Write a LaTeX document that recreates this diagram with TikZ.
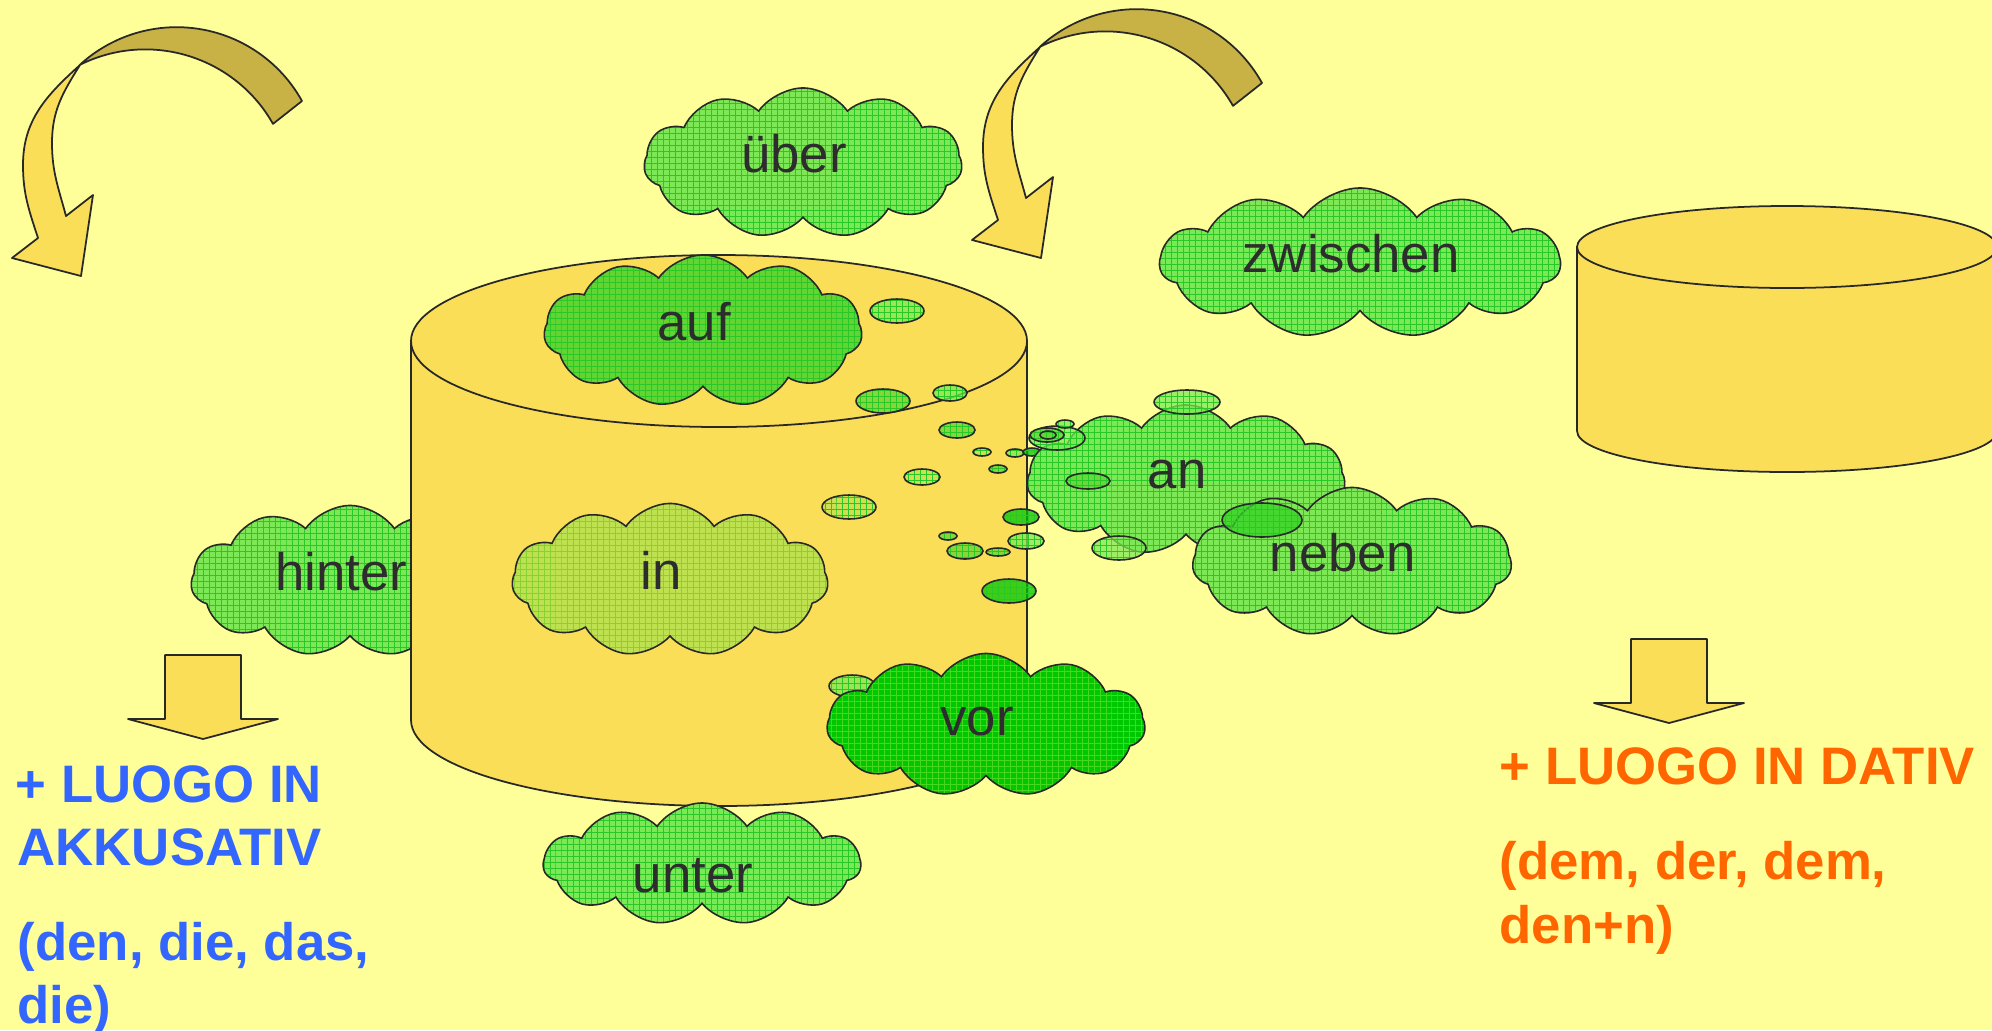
\documentclass[tikz,border=0pt]{standalone}
\usepackage{fontspec}
\setmainfont{Liberation Sans}
\usetikzlibrary{shapes.symbols,patterns}

\definecolor{bgyellow}{RGB}{255,255,153}
\definecolor{cylyellow}{RGB}{250,222,88}
\definecolor{arrowbrown}{RGB}{200,178,70}
\definecolor{linegray}{RGB}{40,40,40}
\definecolor{textgray}{RGB}{45,45,45}
\definecolor{palegreen}{RGB}{125,232,85}
\definecolor{midgreen}{RGB}{100,212,50}
\definecolor{inyellow}{RGB}{190,225,80}
\definecolor{vivgreen}{RGB}{0,200,0}
\definecolor{darkbubble}{RGB}{50,210,35}
\definecolor{gridgreen}{RGB}{40,200,40}
\definecolor{ingrid}{RGB}{135,210,50}
\definecolor{vorgrid}{RGB}{70,215,30}
\definecolor{akkblue}{RGB}{51,102,255}
\definecolor{datorange}{RGB}{255,102,0}

\newcommand\cloudfont{\fontsize{15}{18}\selectfont}
\newcommand\casefont{\fontsize{15}{18}\selectfont\bfseries}
\newcommand\cloudword[2][0.2cm]{\makebox[0pt]{\raisebox{#1}{#2}\hspace{0.18cm}}}
\newcommand\cloudwordlow[2][-0.28cm]{\makebox[0pt]{\raisebox{#1}[0pt][0pt]{#2}\hspace{0.18cm}}}

\pgfdeclarepatternformonly{finegrid}{\pgfqpoint{-0.2pt}{-0.2pt}}{\pgfqpoint{1.9pt}{1.9pt}}{\pgfqpoint{1.7pt}{1.7pt}}{%
  \pgfsetlinewidth{0.28pt}%
  \pgfpathmoveto{\pgfqpoint{0pt}{-0.2pt}}\pgfpathlineto{\pgfqpoint{0pt}{1.9pt}}%
  \pgfpathmoveto{\pgfqpoint{-0.2pt}{0pt}}\pgfpathlineto{\pgfqpoint{1.9pt}{0pt}}%
  \pgfusepath{stroke}}

\tikzset{
  arrowline/.style={draw=linegray, line width=0.5pt, line join=round},
  cyl/.style={draw=linegray, line width=0.5pt, fill=cylyellow},
  cloudbox/.style={cloud, cloud puffs=11, cloud puff arc=110, draw=linegray, line width=0.45pt,
    preaction={fill=#1}, pattern=finegrid, pattern color=gridgreen, text=textgray, font=\cloudfont},
  bubble/.style={draw=linegray, line width=0.45pt, preaction={fill=#1, fill opacity=0.75},
    pattern=finegrid, pattern color=gridgreen},
  akk/.style={anchor=base west, text=akkblue, font=\casefont},
  dat/.style={anchor=base west, text=datorange, font=\casefont},
  turnarrow/.pic={
    \draw[arrowline, fill=arrowbrown] (302,-101) arc[start angle=29, end angle=132.5, radius=143.3]
      arc[start angle=116.5, end angle=29.5, radius=146.7] -- cycle;
    \draw[arrowline, fill=cylyellow] (80,-65) to[out=222,in=90] (23,-165) to[out=-90,in=108] (38,-238)
      -- (12,-258) -- (81,-276) -- (93,-195) -- (66,-216) to[out=105,in=-90] (52,-143) to[out=90,in=238] (80,-65) -- cycle;
  },
  droparrow/.pic={
    \draw[arrowline, fill=cylyellow] (-38,0) -- (38,0) -- (38,-64) -- (75,-64) -- (0,-84) -- (-75,-64) -- (-38,-64) -- cycle;
  }
}

\begin{document}
\begin{tikzpicture}[x=0.01cm, y=0.01cm]
\tikzstyle{every node}+=[inner sep=0pt]
\useasboundingbox (0,0) rectangle (1992,-1030);
\fill [bgyellow] (0,0) rectangle (1992,-1030);
\pic at (0,0) {turnarrow};
\pic at (960,18) {turnarrow};
\node [cloudbox=palegreen, minimum width=3.18cm, minimum height=1.51cm] (hinter) at (350,-581) {\cloudword{hinter}};
\draw [cyl] (411,-341) -- (411,-720) arc[start angle=180, end angle=360, x radius=308, y radius=86] -- (1027,-341) -- cycle;
\draw [cyl] (719,-341) ellipse (308 and 86);
\draw [cyl] (1577,-247) -- (1577,-431) arc[start angle=180, end angle=360, x radius=210, y radius=41] -- (1997,-247) -- cycle;
\draw [cyl] (1787,-247) ellipse (210 and 41);
\node [cloudbox=palegreen, minimum width=3.18cm, minimum height=1.5cm] (uber) at (803,-163) {\cloudword{über}};
\node [cloudbox=palegreen, minimum width=4cm, minimum height=1.5cm] (zwischen) at (1360,-263) {\cloudword{zwischen}};
\node [cloudbox=midgreen, minimum width=3.18cm, minimum height=1.52cm] (auf) at (703,-331) {\cloudword{auf}};
\node [cloudbox=inyellow, pattern color=ingrid, minimum width=3.16cm, minimum height=1.53cm] (in) at (670,-580) {\cloudword{in}};
\node [cloudbox=palegreen, minimum width=3.17cm, minimum height=1.22cm] (unter) at (702,-864) {\cloudwordlow{unter}};
\draw [bubble=palegreen] (897,-311) ellipse (27 and 12);
\draw [bubble=midgreen] (883,-401) ellipse (27 and 12);
\draw [bubble=palegreen] (950,-393) ellipse (17 and 8);
\draw [bubble=midgreen] (957,-430) ellipse (18 and 8);
\draw [bubble=inyellow] (982,-452) ellipse (9 and 4);
\draw [bubble=palegreen] (1015,-453) ellipse (9 and 4);
\draw [bubble=vivgreen] (1032,-452) ellipse (9 and 4);
\draw [bubble=midgreen] (998,-469) ellipse (9 and 4);
\draw [bubble=inyellow] (922,-477) ellipse (18 and 8);
\draw [bubble=inyellow] (849,-507) ellipse (27 and 12);
\draw [bubble=midgreen] (948,-536) ellipse (9 and 4);
\draw [bubble=midgreen] (965,-551) ellipse (18 and 8);
\draw [bubble=midgreen] (998,-552) ellipse (12 and 4);
\draw [bubble=vivgreen] (1021,-517) ellipse (18 and 8);
\draw [bubble=palegreen] (1026,-541) ellipse (18 and 8);
\draw [bubble=vivgreen] (1009,-591) ellipse (27 and 12);
\draw [bubble=palegreen] (852,-686) ellipse (23 and 11);
\node [cloudbox=vivgreen, pattern color=vorgrid, minimum width=3.18cm, minimum height=1.43cm] (vor) at (986,-725) {\cloudword[0.08cm]{vor}};
\node [cloudbox=palegreen, minimum width=3.18cm, minimum height=1.5cm] (an) at (1186,-480) {\cloudword[0.12cm]{an}};
\node [cloudbox=palegreen, minimum width=3.19cm, minimum height=1.49cm] (neben) at (1352,-562) {\cloudword{neben}};
\draw [bubble=palegreen] (1057,-438) ellipse (28 and 12);
\draw [bubble=midgreen] (1047,-435) ellipse (17 and 7);
\draw [bubble=midgreen] (1048,-435) ellipse (8 and 4);
\draw [bubble=palegreen] (1065,-424) ellipse (9 and 4);
\draw [bubble=palegreen] (1187,-402) ellipse (33 and 12);
\draw [bubble=midgreen] (1088,-481) ellipse (22 and 8);
\draw [bubble=palegreen] (1119,-548) ellipse (27 and 12);
\draw [bubble=darkbubble] (1262,-520) ellipse (40 and 17);
\pic at (203,-655) {droparrow};
\pic at (1669,-639) {droparrow};
\node [akk] (akk1) at (15,-802) {+ LUOGO IN};
\node [akk] (akk2) at (17,-865) {AKKUSATIV};
\node [akk] (akk3) at (17,-960) {(den, die, das,};
\node [akk] (akk4) at (17,-1023) {die)};
\node [dat] (dat1) at (1499,-784) {+ LUOGO IN DATIV};
\node [dat] (dat2) at (1499,-879) {(dem, der, dem,};
\node [dat] (dat3) at (1499,-943) {den+n)};
\end{tikzpicture}
\end{document}
